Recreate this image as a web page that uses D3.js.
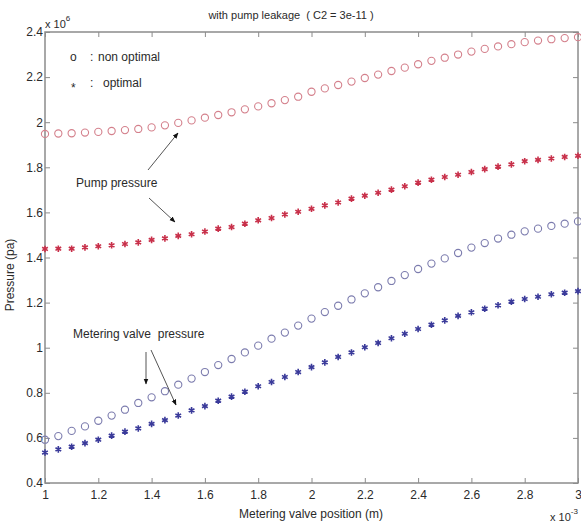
<!DOCTYPE html>
<html>
<head>
<meta charset="utf-8">
<script src="https://cdn.jsdelivr.net/npm/d3@7"></script>
<style>
  html, body { margin: 0; padding: 0; background: #fff; }
  svg { display: block; font-family: Arial, "Liberation Sans", sans-serif; }
  text { white-space: pre; }
</style>
</head>
<body>
<svg id="chart" width="581" height="522"></svg>
<script>
// Metering valve position (x 10^-3 m), 0.05 step from 1 to 3
const positions = d3.range(41).map(i => +(1 + i * 0.05).toFixed(2));

// Pressures (x 10^6 pa)
const pumpNonOptimal = [
  1.948, 1.950, 1.951, 1.954, 1.957, 1.961, 1.965, 1.970, 1.977, 1.986,
  1.997, 2.008, 2.020, 2.032, 2.044, 2.057, 2.070, 2.084, 2.098, 2.113,
  2.135, 2.150, 2.165, 2.180, 2.196, 2.211, 2.227, 2.242, 2.257, 2.272,
  2.286, 2.300, 2.313, 2.325, 2.336, 2.346, 2.355, 2.362, 2.368, 2.373,
  2.377
];
const pumpOptimal = [
  1.438, 1.439, 1.439, 1.445, 1.450, 1.454, 1.460, 1.467, 1.478, 1.485,
  1.496, 1.503, 1.515, 1.528, 1.535, 1.550, 1.565, 1.575, 1.591, 1.603,
  1.616, 1.631, 1.644, 1.661, 1.674, 1.687, 1.701, 1.716, 1.732, 1.745,
  1.757, 1.767, 1.779, 1.792, 1.803, 1.813, 1.827, 1.833, 1.839, 1.846,
  1.851
];
const meterNonOptimal = [
  0.592, 0.608, 0.631, 0.651, 0.676, 0.699, 0.725, 0.755, 0.780, 0.807,
  0.836, 0.863, 0.892, 0.923, 0.950, 0.979, 1.009, 1.040, 1.067, 1.098,
  1.129, 1.158, 1.186, 1.214, 1.241, 1.268, 1.296, 1.322, 1.349, 1.373,
  1.396, 1.420, 1.444, 1.464, 1.484, 1.501, 1.516, 1.528, 1.540, 1.550,
  1.560
];
const meterOptimal = [
  0.535, 0.549, 0.561, 0.577, 0.592, 0.610, 0.628, 0.642, 0.662, 0.679,
  0.699, 0.722, 0.741, 0.765, 0.783, 0.805, 0.829, 0.848, 0.870, 0.892,
  0.914, 0.935, 0.959, 0.979, 1.002, 1.021, 1.042, 1.062, 1.083, 1.102,
  1.121, 1.141, 1.157, 1.173, 1.188, 1.204, 1.216, 1.226, 1.237, 1.244,
  1.251
];

const xTicks = [1, 1.2, 1.4, 1.6, 1.8, 2, 2.2, 2.4, 2.6, 2.8, 3];
const yTicks = [0.4, 0.6, 0.8, 1, 1.2, 1.4, 1.6, 1.8, 2, 2.2, 2.4];

const svg = d3.select("#chart");
const plotL = 45, plotR = 578, plotT = 32, plotB = 483;
const x = d3.scaleLinear().domain([1, 3]).range([plotL, plotR]);
const y = d3.scaleLinear().domain([0.4, 2.4]).range([plotB, plotT]);

const axisColor = "#8c8c8c";
const textColor = "#2a2a2a";
const fmt = d => String(+d.toFixed(1));

// Axes with inward ticks on all four sides
function styleAxis(g) {
  g.select(".domain").remove();
  g.selectAll(".tick line").attr("stroke", axisColor).attr("stroke-width", 1);
  g.selectAll(".tick text").attr("fill", textColor).style("font-size", "12px");
}
svg.append("g").attr("transform", `translate(0,${plotB})`)
  .call(d3.axisBottom(x).tickValues(xTicks).tickFormat(fmt).tickSizeInner(-5).tickSizeOuter(0).tickPadding(7))
  .call(styleAxis);
svg.append("g").attr("transform", `translate(0,${plotT})`)
  .call(d3.axisTop(x).tickValues(xTicks).tickFormat("").tickSizeInner(-5).tickSizeOuter(0))
  .call(styleAxis);
svg.append("g").attr("transform", `translate(${plotL},0)`)
  .call(d3.axisLeft(y).tickValues(yTicks).tickFormat(fmt).tickSizeInner(-5).tickSizeOuter(0).tickPadding(2))
  .call(styleAxis);
svg.append("g").attr("transform", `translate(${plotR},0)`)
  .call(d3.axisRight(y).tickValues(yTicks).tickFormat("").tickSizeInner(-5).tickSizeOuter(0))
  .call(styleAxis);

// Axes box
svg.append("rect")
  .attr("x", plotL).attr("y", plotT)
  .attr("width", plotR - plotL).attr("height", plotB - plotT)
  .attr("fill", "none").attr("stroke", axisColor).attr("stroke-width", 1.5);

// Series markers
const circleSeries = [
  { values: pumpNonOptimal, color: "#d4808c" },
  { values: meterNonOptimal, color: "#7c7cae" }
];
const starSeries = [
  { values: pumpOptimal, color: "#c8304a" },
  { values: meterOptimal, color: "#3a3a9a" }
];
circleSeries.forEach(s => {
  svg.append("g").selectAll("circle")
    .data(positions.map((p, i) => [p, s.values[i]]))
    .join("circle")
    .attr("cx", d => x(d[0])).attr("cy", d => y(d[1]))
    .attr("r", 3.6)
    .attr("fill", "none").attr("stroke", s.color).attr("stroke-width", 1.1);
});
const star = d3.symbol().type(d3.symbolAsterisk).size(30);
starSeries.forEach(s => {
  svg.append("g").selectAll("path")
    .data(positions.map((p, i) => [p, s.values[i]]))
    .join("path")
    .attr("transform", d => `translate(${x(d[0])},${y(d[1])})`)
    .attr("d", star)
    .attr("fill", "none").attr("stroke", s.color).attr("stroke-width", 1.6);
});

// Title and axis labels
svg.append("text").attr("x", 291).attr("y", 19).attr("text-anchor", "middle")
  .attr("fill", textColor).style("font-size", "11px")
  .text("with pump leakage  ( C2 = 3e-11 )");
svg.append("text").attr("x", 311).attr("y", 518).attr("text-anchor", "middle")
  .attr("fill", textColor).style("font-size", "12px")
  .text("Metering valve position (m)");
svg.append("text").attr("transform", "translate(14,275) rotate(-90)").attr("text-anchor", "middle")
  .attr("fill", textColor).style("font-size", "12px")
  .text("Pressure (pa)");

// Exponent labels
const yExp = svg.append("text").attr("x", 45).attr("y", 28).attr("fill", textColor).style("font-size", "11px");
yExp.append("tspan").text("x 10");
yExp.append("tspan").attr("dy", -7).style("font-size", "8px").text("6");
const xExp = svg.append("text").attr("x", 550).attr("y", 521).attr("fill", textColor).style("font-size", "11px");
xExp.append("tspan").text("x 10");
xExp.append("tspan").attr("dy", -7).style("font-size", "8px").text("-3");

// Legend
const legend = svg.append("g").attr("fill", textColor).style("font-size", "12px");
legend.append("text").attr("x", 70).attr("y", 61).text("o");
legend.append("text").attr("x", 90).attr("y", 61).text(":");
legend.append("text").attr("x", 98).attr("y", 61).text("non optimal");
legend.append("text").attr("x", 71).attr("y", 92).text("*");
legend.append("text").attr("x", 90).attr("y", 87).text(":");
legend.append("text").attr("x", 103).attr("y", 87).text("optimal");

// Annotations with arrows
svg.append("defs").append("marker")
  .attr("id", "head").attr("viewBox", "0 0 10 10").attr("refX", 9).attr("refY", 5)
  .attr("markerWidth", 6).attr("markerHeight", 6).attr("orient", "auto-start-reverse")
  .attr("markerUnits", "userSpaceOnUse")
  .append("path").attr("d", "M0,1 L10,5 L0,9 Z").attr("fill", "#111");

const notes = svg.append("g").attr("fill", textColor).style("font-size", "12px");
notes.append("text").attr("x", 76).attr("y", 187).text("Pump pressure");
notes.append("text").attr("x", 73).attr("y", 338).text("Metering valve  pressure");

const arrows = [
  [148, 170, 178, 133],
  [149, 198, 175, 222],
  [146, 352, 146, 384],
  [151, 350, 176, 405]
];
svg.append("g").selectAll("line").data(arrows).join("line")
  .attr("x1", d => d[0]).attr("y1", d => d[1]).attr("x2", d => d[2]).attr("y2", d => d[3])
  .attr("stroke", "#555").attr("stroke-width", 1)
  .attr("marker-end", "url(#head)");
</script>
</body>
</html>
